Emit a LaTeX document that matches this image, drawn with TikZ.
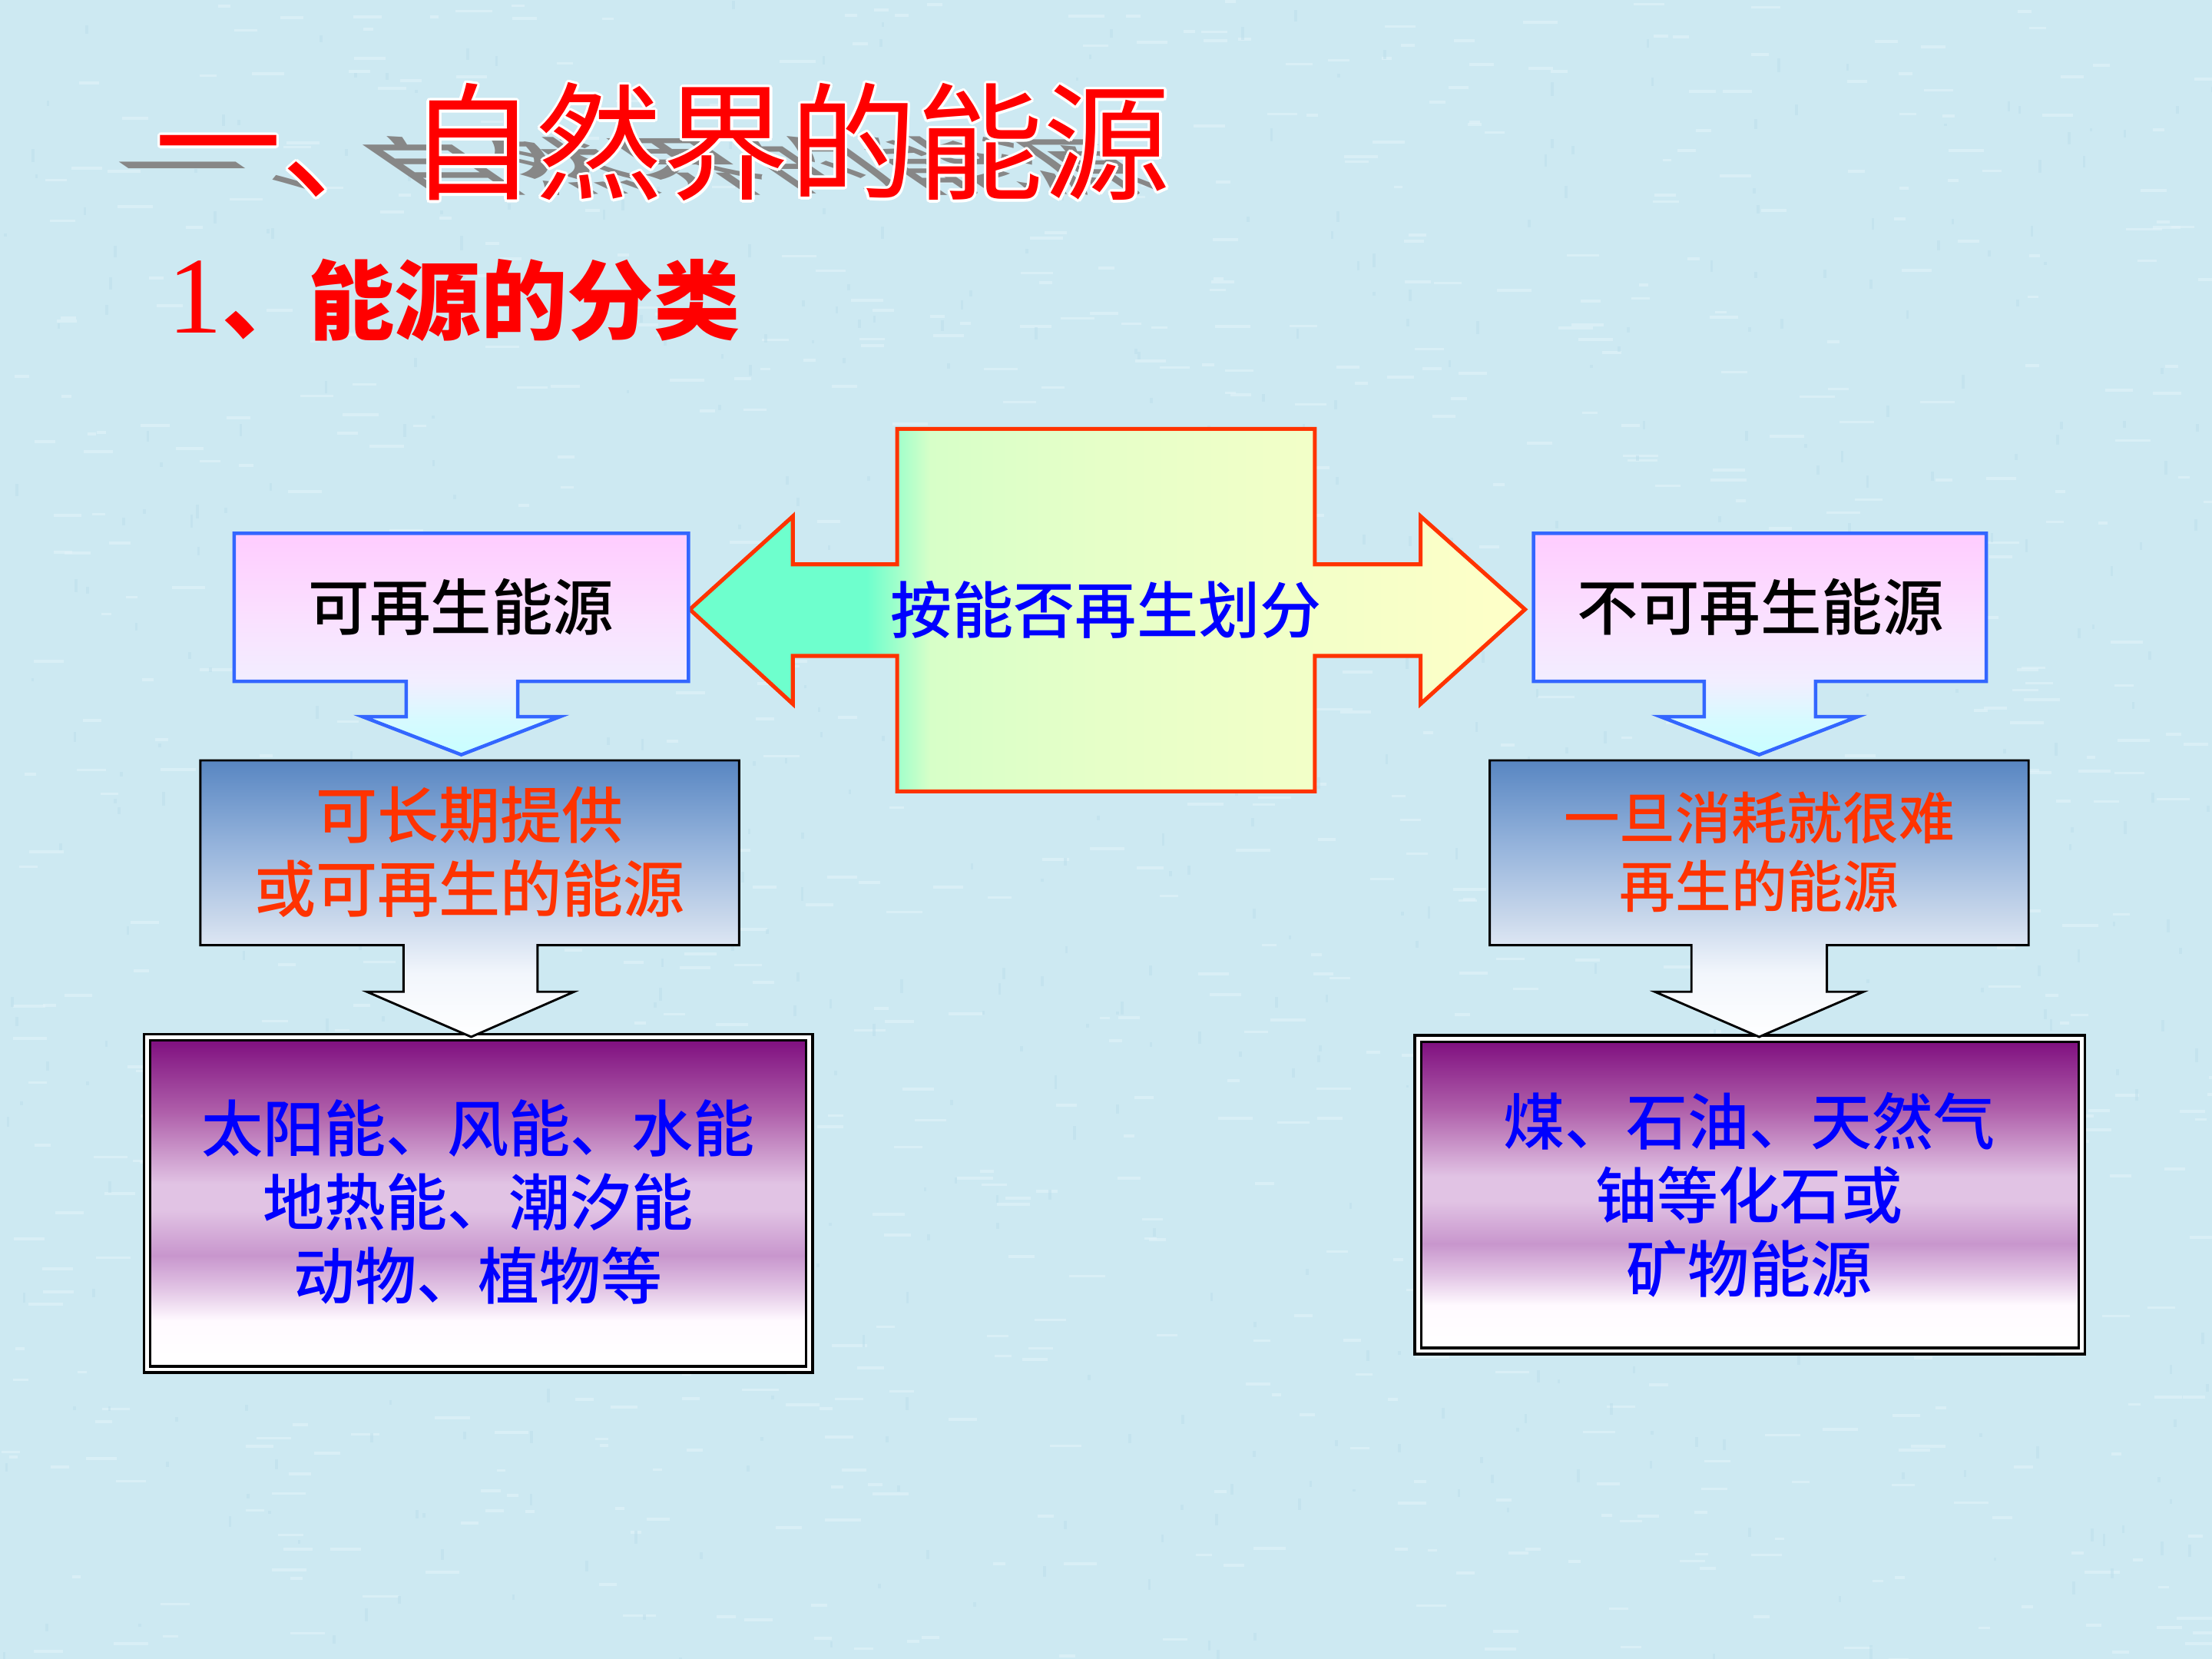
\documentclass[tikz,border=0pt]{standalone}
\usepackage{fontspec}
\usepackage[copies]{contour}
\newfontfamily\cjk{Noto Sans CJK SC}
\newfontfamily\cjkm{Noto Sans CJK SC}[UprightFont={* Medium}]
\newfontfamily\lserif{Liberation Serif}
\newcommand\setfs[2]{\fontsize{#1}{#2}\selectfont}
\contourlength{0.5pt}

\definecolor{bgc}{RGB}{205,233,242}
\definecolor{bgl}{RGB}{228,244,250}
\definecolor{bgd}{RGB}{188,222,236}
\definecolor{pinkedge}{RGB}{51,102,255}
\definecolor{arrowedge}{RGB}{255,51,0}
\definecolor{bluetext}{RGB}{0,0,255}
\definecolor{orangetext}{RGB}{255,51,0}
\definecolor{titlered}{RGB}{255,0,0}
\definecolor{shadowgray}{RGB}{135,135,135}

% pink callout shading
\definecolor{pkA}{RGB}{255,204,255}
\definecolor{pkB}{RGB}{250,225,255}
\definecolor{pkC}{RGB}{242,238,255}
\definecolor{pkD}{RGB}{215,250,255}
\definecolor{pkE}{RGB}{200,255,255}
\pgfdeclareverticalshading{pinkshade}{100bp}{color(0bp)=(pkE); color(25bp)=(pkE); color(33bp)=(pkD); color(41.6bp)=(pkC); color(55.3bp)=(pkB); color(75bp)=(pkA); color(100bp)=(pkA)}

% blue callout shading
\definecolor{blA}{RGB}{88,134,194}
\definecolor{blB}{RGB}{150,180,220}
\definecolor{blC}{RGB}{200,215,235}
\definecolor{blD}{RGB}{242,246,252}
\pgfdeclareverticalshading{blueshade}{100bp}{color(0bp)=(white); color(25bp)=(white); color(36.5bp)=(blD); color(46.7bp)=(blC); color(59.4bp)=(blB); color(75bp)=(blA); color(100bp)=(blA)}

% purple box shading
\definecolor{puA}{RGB}{128,16,128}
\definecolor{puB}{RGB}{175,95,170}
\definecolor{puC}{RGB}{225,195,228}
\definecolor{puD}{RGB}{200,150,205}
\definecolor{puE}{RGB}{255,250,255}
\pgfdeclareverticalshading{purpleshade}{100bp}{color(0bp)=(white); color(25bp)=(white); color(32bp)=(puE); color(37bp)=(puC); color(42bp)=(puD); color(49bp)=(puC); color(53bp)=(puC); color(64bp)=(puB); color(75bp)=(puA); color(100bp)=(puA)}

% centre double arrow shading
\definecolor{aqA}{RGB}{110,255,205}
\definecolor{lgA}{RGB}{215,255,200}
\definecolor{lgB}{RGB}{230,255,200}
\definecolor{lyA}{RGB}{255,255,200}
\pgfdeclarehorizontalshading{centershade}{100bp}{color(0bp)=(aqA); color(25bp)=(aqA); color(35.6bp)=(aqA); color(39.4bp)=(lgA); color(49.6bp)=(lgB); color(75bp)=(lyA); color(100bp)=(lyA)}

\begin{document}
\begin{tikzpicture}[x=0.01cm,y=-0.01cm,
  pinkbox/.style={draw=pinkedge, line width=0.7pt, shade, shading=pinkshade, line join=miter},
  bluebox/.style={draw=black, line width=0.45pt, shade, shading=blueshade, line join=miter},
  outerbox/.style={draw=black, fill=white, line width=0.55pt},
  purplebox/.style={draw=black, line width=0.55pt, shade, shading=purpleshade},
  dblarrow/.style={draw=arrowedge, line width=0.8pt, shade, shading=centershade, line join=miter},
  lbl/.style={inner sep=0pt, align=center},
  boxtext/.style={lbl, font=\cjkm\setfs{12.3pt}{14.8pt}},
  desctext/.style={lbl, text=orangetext, font=\cjkm\setfs{12.4pt}{14.8pt}},
  listtext/.style={lbl, text=bluetext, font=\cjkm\setfs{12.4pt}{14.8pt}},
]
\useasboundingbox (0,0) rectangle (1568,1176);
\fill[bgc] (0,0) rectangle (1568,1176);
% canvas texture of the background
\pgfmathsetseed{11}
\foreach \i in {1,...,900}{
  \pgfmathsetmacro\tx{1568*rnd}
  \pgfmathsetmacro\ty{1176*rnd}
  \pgfmathsetmacro\tl{6+20*rnd}
  \fill[bgl, opacity=0.55] (\tx,\ty) rectangle ++(\tl,2);
}
\foreach \i in {1,...,600}{
  \pgfmathsetmacro\tx{1568*rnd}
  \pgfmathsetmacro\ty{1176*rnd}
  \pgfmathsetmacro\tl{2+8*rnd}
  \fill[bgd, opacity=0.5] (\tx,\ty) rectangle ++(2,\tl);
}

% title with shadow
\node[anchor=base west, inner sep=0pt, text=shadowgray, font=\cjkm\setfs{25.6pt}{30pt},
      cm={1,0,-0.73,0.5,(0,0)}] (titleshadow) at (109,135) {一、自然界的能源};
\node[anchor=base west, inner sep=0pt, text=titlered, font=\cjk\setfs{25.6pt}{30pt}]
      (title) at (109,135) {\contour{white}{一、自然界的能源}};

% subtitle
\node[anchor=base west, inner sep=0pt, text=titlered] (subtitle) at (118,236)
      {{\lserif\setfs{22pt}{26pt}1}{\cjk\bfseries\setfs{17.4pt}{20pt}、能源的分类}};

% centre double arrow
\draw[dblarrow] (636,304) -- (932,304) -- (932,400) -- (1007,400) -- (1007,366)
   -- (1081,432) -- (1007,499) -- (1007,465) -- (932,465) -- (932,561)
   -- (636,561) -- (636,465) -- (562,465) -- (562,499) -- (489,432)
   -- (562,366) -- (562,400) -- (636,400) -- cycle;
\node[boxtext, text=bluetext, font=\cjkm\setfs{12.4pt}{14.8pt}] (crit) at (784,432) {按能否再生划分};

% pink callouts
\draw[pinkbox] (166,378) -- (488,378) -- (488,483) -- (367,483) -- (367,508) -- (397,508)
   -- (327,535) -- (257,508) -- (288,508) -- (288,483) -- (166,483) -- cycle;
\node[boxtext] (ren) at (327,430) {可再生能源};

\draw[pinkbox] (1087,378) -- (1408,378) -- (1408,483) -- (1287,483) -- (1287,508) -- (1317,508)
   -- (1247,535) -- (1177,508) -- (1208,508) -- (1208,483) -- (1087,483) -- cycle;
\node[boxtext] (nren) at (1248,430) {不可再生能源};

% purple boxes
\draw[outerbox] (102,733) rectangle (576,973);
\draw[purplebox] (106.5,737.5) rectangle (571.5,968.5);
\node[listtext] (renex) at (339,852) {太阳能、风能、水能\\地热能、潮汐能\\动物、植物等};

\draw[outerbox] (1003,734) rectangle (1478,960);
\draw[purplebox] (1007.5,738.5) rectangle (1473.5,955.5);
\node[listtext] (nrenex) at (1240,847) {煤、石油、天然气\\铀等化石或\\矿物能源};

% blue callouts
\draw[bluebox] (142,539) -- (524,539) -- (524,670) -- (381,670) -- (381,703) -- (407,703)
   -- (334,735) -- (260,703) -- (286,703) -- (286,670) -- (142,670) -- cycle;
\node[desctext] (rendesc) at (333,604) {可长期提供\\或可再生的能源};

\draw[bluebox] (1056,539) -- (1438,539) -- (1438,670) -- (1295,670) -- (1295,703) -- (1321,703)
   -- (1247,735) -- (1173,703) -- (1199,703) -- (1199,670) -- (1056,670) -- cycle;
\node[lbl, text=orangetext, font=\cjkm\setfs{11.25pt}{13.66pt}] (nrendesc) at (1247,604)
   {一旦消耗就很难\\再生的能源};
\end{tikzpicture}
\end{document}
